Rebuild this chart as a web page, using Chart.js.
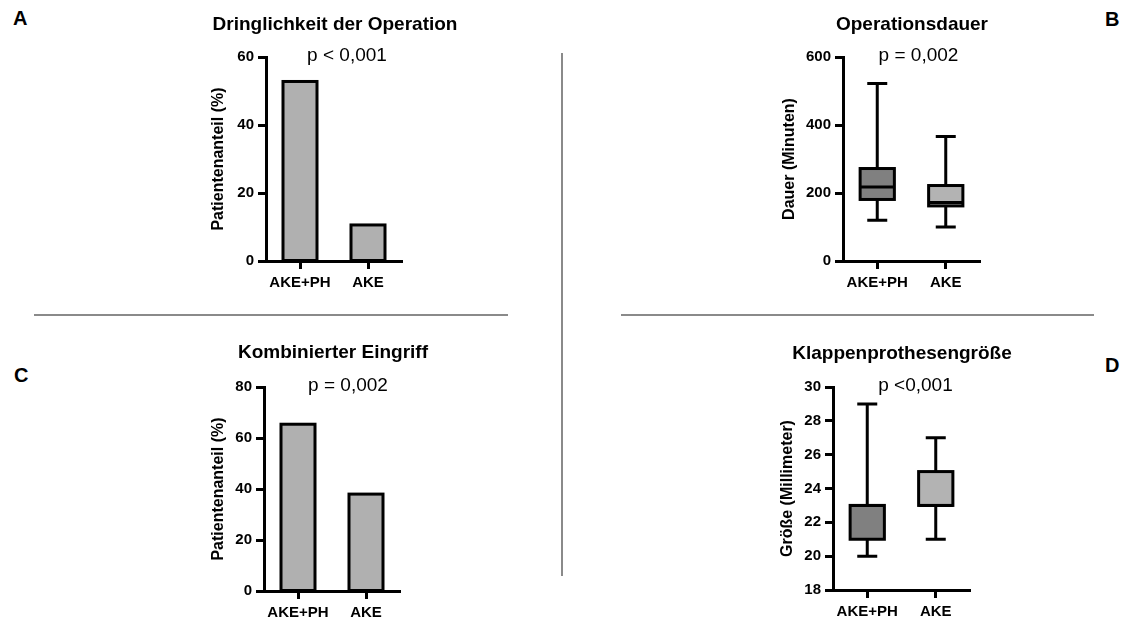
<!DOCTYPE html>
<html>
<head>
<meta charset="utf-8">
<script src="https://cdn.jsdelivr.net/npm/chart.js@4.4.0/dist/chart.umd.min.js"></script>
<style>
  body { margin: 0; width: 1128px; height: 619px; overflow: hidden; background: #fff; position: relative; font-family: "Liberation Sans", Arial, sans-serif; }
  canvas { position: absolute; }
  .letter { position: absolute; font-weight: bold; font-size: 20px; line-height: 20px; color: #000; }
  .sep { position: absolute; background: #8a8a8a; }
</style>
</head>
<body>

<div class="letter" style="left:13px;top:8px">A</div>
<div class="letter" style="left:1105px;top:9px">B</div>
<div class="letter" style="left:14px;top:365px">C</div>
<div class="letter" style="left:1105px;top:355px">D</div>

<div class="sep" style="left:34px;top:314px;width:474px;height:2px"></div>
<div class="sep" style="left:621px;top:314px;width:473px;height:2px"></div>
<div class="sep" style="left:561px;top:53px;width:2px;height:523px"></div>

<canvas id="chartA" width="260" height="300" style="left:205px;top:0px"></canvas>
<canvas id="chartB" width="272" height="300" style="left:776px;top:0px"></canvas>
<canvas id="chartC" width="256" height="300" style="left:205px;top:320px"></canvas>
<canvas id="chartD" width="256" height="300" style="left:774px;top:320px"></canvas>

<script>
const FONT = '"Liberation Sans", Arial, sans-serif';

// Gruppen
const groups = ['AKE+PH', 'AKE'];

// A - Dringlichkeit der Operation (%)
const urgentShare = [52.8, 10.6];
const urgentTicks = [0, 20, 40, 60];

// B - Operationsdauer (Minuten)
const durMin = [120, 100];
const durQ1 = [181, 162];
const durMedian = [218, 172];
const durQ3 = [272, 222];
const durMax = [522, 366];
const durTicks = [0, 200, 400, 600];

// C - Kombinierter Eingriff (%)
const combinedShare = [65.4, 38.0];
const combinedTicks = [0, 20, 40, 60, 80];

// D - Klappenprothesengröße (mm)
const sizeMin = [20, 21];
const sizeQ1 = [21, 23];
const sizeMedian = [23, 23];
const sizeQ3 = [23, 25];
const sizeMax = [29, 27];
const sizeTicks = [18, 20, 22, 24, 26, 28, 30];

// Titel + p-Wert
const annot = {
  id: 'annot',
  afterDraw(chart, args, opts) {
    const ctx = chart.ctx;
    const a = chart.chartArea;
    ctx.save();
    ctx.fillStyle = '#000';
    ctx.textAlign = 'center';
    ctx.textBaseline = 'middle';
    ctx.font = 'bold 19px ' + FONT;
    ctx.fillText(opts.title, opts.titleX, opts.titleY);
    ctx.font = '19px ' + FONT;
    ctx.fillText(opts.p, (a.left + a.right) / 2 + opts.pdx, a.top - 1);
    ctx.restore();
  }
};

// Rahmen um Balken/Boxen (zentrierte Linie wie im Original)
const outline = {
  id: 'outline',
  afterDatasetsDraw(chart) {
    const ctx = chart.ctx;
    ctx.save();
    ctx.strokeStyle = '#000';
    ctx.lineWidth = 3;
    chart.getDatasetMeta(0).data.forEach(bar => {
      const top = Math.min(bar.y, bar.base);
      ctx.strokeRect(bar.x - bar.width / 2, top, bar.width, Math.abs(bar.base - bar.y));
    });
    ctx.restore();
  }
};
Chart.register(annot, outline);

// Whisker + Median für Boxplots
function whiskers(mins, meds, maxs, q1s, q3s) {
  return {
    id: 'whiskers',
    afterDatasetsDraw(chart) {
      const ctx = chart.ctx;
      const y = chart.scales.y;
      const bars = chart.getDatasetMeta(0).data;
      ctx.save();
      ctx.strokeStyle = '#000';
      ctx.lineWidth = 3;
      bars.forEach((bar, i) => {
        const x = bar.x;
        const half = bar.width / 2;
        const cap = 10;
        const yMax = y.getPixelForValue(maxs[i]);
        const yMin = y.getPixelForValue(mins[i]);
        ctx.beginPath();
        ctx.moveTo(x, y.getPixelForValue(q3s[i])); ctx.lineTo(x, yMax);
        ctx.moveTo(x - cap, yMax); ctx.lineTo(x + cap, yMax);
        ctx.moveTo(x, y.getPixelForValue(q1s[i])); ctx.lineTo(x, yMin);
        ctx.moveTo(x - cap, yMin); ctx.lineTo(x + cap, yMin);
        const yMed = y.getPixelForValue(meds[i]);
        ctx.moveTo(x - half, yMed); ctx.lineTo(x + half, yMed);
        ctx.stroke();
      });
      ctx.restore();
    }
  };
}

function makeOptions(cfg) {
  const axisGrid = { display: true, drawOnChartArea: false, drawTicks: true, tickLength: 8, tickWidth: 3, tickColor: '#000', offset: false };
  const axisBorder = { display: true, color: '#000', width: 3, z: 1 };
  return {
    responsive: false,
    animation: false,
    layout: { padding: { left: 0, top: cfg.padTop, right: cfg.padRight, bottom: 0 } },
    plugins: {
      legend: { display: false },
      tooltip: { enabled: false },
      annot: { title: cfg.title, titleX: cfg.titleX, titleY: cfg.titleY, p: cfg.p, pdx: cfg.pdx }
    },
    scales: {
      x: {
        grid: axisGrid,
        border: axisBorder,
        ticks: { color: '#000', font: { family: FONT, size: 15, weight: 'bold' }, padding: 5 },
        afterFit: s => { s.height = cfg.xHeight; }
      },
      y: {
        min: cfg.ticks[0],
        max: cfg.ticks[cfg.ticks.length - 1],
        grid: axisGrid,
        border: axisBorder,
        ticks: { stepSize: cfg.ticks[1] - cfg.ticks[0], color: '#000', font: { family: FONT, size: 15, weight: 'bold' }, padding: 4 },
        title: { display: true, text: cfg.yTitle, color: '#000', font: { family: FONT, size: 16, weight: 'bold' }, padding: { top: 4, bottom: 4 } },
        afterFit: s => { s.width = cfg.yWidth; }
      }
    }
  };
}

const barStyle = { borderWidth: 0, barPercentage: 0.5, categoryPercentage: 1 };

// A
new Chart(document.getElementById('chartA'), {
  type: 'bar',
  data: {
    labels: groups,
    datasets: [{ data: urgentShare, backgroundColor: '#b0b0b0', ...barStyle }]
  },
  options: makeOptions({ title: 'Dringlichkeit der Operation', titleX: 130, titleY: 25, p: 'p < 0,001', pdx: 13,
    padTop: 57, padRight: 63, xHeight: 39, yWidth: 61, ticks: urgentTicks, yTitle: 'Patientenanteil (%)' })
});

// B
new Chart(document.getElementById('chartB'), {
  type: 'bar',
  data: {
    labels: groups,
    datasets: [{ data: groups.map((g, i) => [durQ1[i], durQ3[i]]), backgroundColor: ['#808080', '#b3b3b3'], ...barStyle }]
  },
  options: makeOptions({ title: 'Operationsdauer', titleX: 136, titleY: 25, p: 'p = 0,002', pdx: 7,
    padTop: 57, padRight: 68, xHeight: 39, yWidth: 67, ticks: durTicks, yTitle: 'Dauer (Minuten)' }),
  plugins: [whiskers(durMin, durMedian, durMax, durQ1, durQ3)]
});

// C
new Chart(document.getElementById('chartC'), {
  type: 'bar',
  data: {
    labels: groups,
    datasets: [{ data: combinedShare, backgroundColor: '#b0b0b0', ...barStyle }]
  },
  options: makeOptions({ title: 'Kombinierter Eingriff', titleX: 128, titleY: 33, p: 'p = 0,002', pdx: 16,
    padTop: 67, padRight: 61, xHeight: 29, yWidth: 59, ticks: combinedTicks, yTitle: 'Patientenanteil (%)' })
});

// D
new Chart(document.getElementById('chartD'), {
  type: 'bar',
  data: {
    labels: groups,
    datasets: [{ data: groups.map((g, i) => [sizeQ1[i], sizeQ3[i]]), backgroundColor: ['#808080', '#b3b3b3'], ...barStyle }]
  },
  options: makeOptions({ title: 'Klappenprothesengröße', titleX: 128, titleY: 34, p: 'p <0,001', pdx: 14,
    padTop: 67, padRight: 60, xHeight: 30, yWidth: 59, ticks: sizeTicks, yTitle: 'Größe (Millimeter)' }),
  plugins: [whiskers(sizeMin, sizeMedian, sizeMax, sizeQ1, sizeQ3)]
});
</script>
</body>
</html>
